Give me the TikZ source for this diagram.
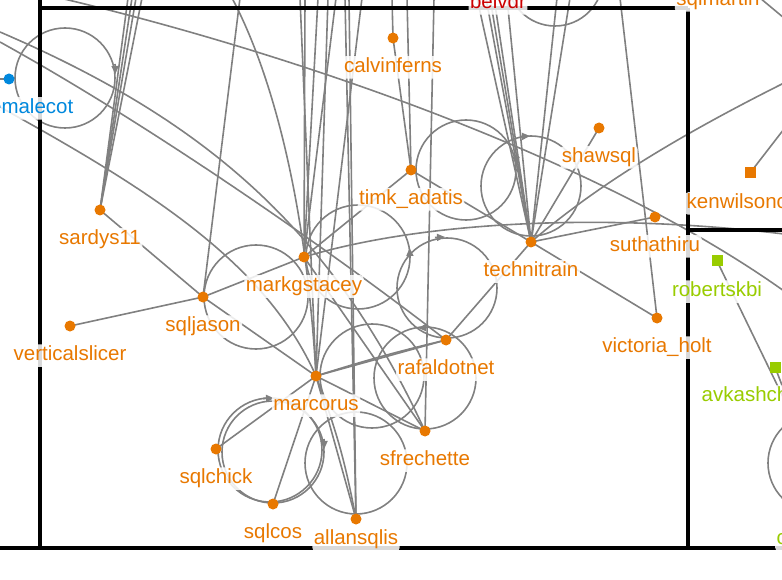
\documentclass[tikz,border=0pt]{standalone}
\usepackage{fontspec}
\setmainfont{Liberation Sans}
\usetikzlibrary{arrows.meta}
\definecolor{org}{RGB}{232,120,0}
\definecolor{grn}{RGB}{153,204,0}
\definecolor{blu}{RGB}{0,136,221}
\definecolor{rd}{RGB}{204,0,0}
\definecolor{edg}{RGB}{128,128,128}
\begin{document}
\begin{tikzpicture}[x=1pt,y=-1pt,
 edge/.style={draw=edg,line width=1.6pt},
 loopc/.style={draw=edg,line width=1.6pt},
 framel/.style={line width=4.8pt,black},
 dot/.style={circle,fill=#1,inner sep=0pt,minimum size=11pt},
 sqn/.style={rectangle,fill=#1,inner sep=0pt,minimum size=11pt},
 lbl/.style={font=\fontsize{20.5}{22}\selectfont,text=org,fill=white,fill opacity=0.85,text opacity=1,inner sep=1.5pt,rounded corners=3pt,text height=15pt,text depth=4.5pt,yshift=-1.5pt},
 tipst/.style={draw=edg,line width=1.6pt,-{Triangle[length=8pt,width=7pt]}},
]
\useasboundingbox (0,0) rectangle (782,580);
\clip (0,0) rectangle (782,580);
% node positions
\coordinate (calvinferns) at (393,38);
\coordinate (timk) at (411,170);
\coordinate (shawsql) at (599,128);
\coordinate (sardys11) at (100,210);
\coordinate (suthathiru) at (655,217);
\coordinate (technitrain) at (531,242);
\coordinate (markgstacey) at (304,257);
\coordinate (sqljason) at (203,297);
\coordinate (verticalslicer) at (70,326);
\coordinate (victoria) at (657,318);
\coordinate (rafaldotnet) at (446,340);
\coordinate (marcorus) at (316,376);
\coordinate (sfrechette) at (425,431);
\coordinate (sqlchick) at (216,449);
\coordinate (sqlcos) at (273,504);
\coordinate (allansqlis) at (356,519);
\coordinate (emalecot) at (9,79);
\coordinate (kenwilsonc) at (750,173);
\coordinate (robertskbi) at (717,261);
\coordinate (avkashch) at (775,367);
% off-picture ends
\coordinate (tA) at (0,32);
\coordinate (tB) at (0,42);
\coordinate (tC) at (0,107);
\coordinate (tD) at (60,-2);
\coordinate (rA) at (784,291);
\coordinate (el) at (-4,79);
\coordinate (s1) at (128,-2);
\coordinate (s2) at (132,-2);
\coordinate (s3) at (136,-2);
\coordinate (s4) at (142,-2);
\coordinate (q1) at (240,-2);
\coordinate (tm) at (232,-2);
\coordinate (m1) at (305,-2);
\coordinate (m2) at (318,-2);
\coordinate (m3) at (336,-2);
\coordinate (u1) at (300,-2);
\coordinate (u2) at (328,-2);
\coordinate (u3) at (362,-2);
\coordinate (a1) at (345,-2);
\coordinate (a2) at (349,-2);
\coordinate (cf) at (392,-2);
\coordinate (tk) at (407,-2);
\coordinate (sf) at (434,-2);
\coordinate (b1) at (477,-2);
\coordinate (b2) at (486,-2);
\coordinate (b3) at (490,-2);
\coordinate (b4) at (494,-2);
\coordinate (b5) at (507,-2);
\coordinate (b6) at (557,-2);
\coordinate (b7) at (570,-2);
\coordinate (rB) at (784,83);
\coordinate (rC) at (784,234);
\coordinate (vt) at (620,-2);
\coordinate (kr) at (784,129);
\coordinate (x1) at (760,-2);
\coordinate (x2) at (784,18);
\coordinate (rn) at (800,432);
% edges
\draw[edge] (tA) .. controls (200,118) and (330,225) .. (sfrechette);
\draw[edge] (tB) .. controls (150,125) and (330,250) .. (rafaldotnet);
\draw[edge] (tC) .. controls (150,190) and (265,262) .. (marcorus);
\draw[edge] (tD) .. controls (300,55) and (600,160) .. (rA);
\draw[edge] (emalecot) -- (el);
\foreach \t in {s1,s2,s3,s4} \draw[edge] (sardys11) -- (\t);
\draw[edge] (sardys11) -- (sqljason);
\draw[edge] (verticalslicer) -- (sqljason);
\draw[edge] (sqljason) -- (q1);
\draw[edge] (sqljason) -- (markgstacey);
\draw[edge] (sqljason) -- (marcorus);
\draw[edge] (tm) .. controls (265,60) and (305,180) .. (marcorus);
\foreach \t in {m1,m2,m3} \draw[edge] (markgstacey) -- (\t);
\foreach \t in {u1,u2,u3} \draw[edge] (marcorus) -- (\t);
\foreach \t in {a1,a2} \draw[edge] (allansqlis) -- (\t);
\draw[edge] (markgstacey) -- (timk);
\draw[edge] (markgstacey) .. controls (420,222) and (600,212) .. (rC);
\draw[edge] (markgstacey) -- (sfrechette);
\draw[edge] (calvinferns) -- (cf);
\draw[edge] (calvinferns) -- (timk);
\draw[edge] (timk) -- (tk);
\draw[edge] (sfrechette) -- (sf);
\draw[edge] (timk) -- (technitrain);
\foreach \t in {b1,b2,b3,b4,b5,b6,b7} \draw[edge] (technitrain) -- (\t);
\draw[edge] (technitrain) -- (shawsql);
\draw[edge] (technitrain) -- (suthathiru);
\draw[edge] (technitrain) -- (victoria);
\draw[edge] (technitrain) -- (rafaldotnet);
\draw[edge] (technitrain) .. controls (580,200) and (650,150) .. (rB);
\draw[edge] (victoria) -- (vt);
\draw[edge] (kenwilsonc) -- (kr);
\draw[edge] (x1) -- (x2);
\draw[edge] (robertskbi) -- (rn);
\draw[edge] (avkashch) -- (rn);
\draw[edge] (marcorus) -- (rafaldotnet);
\draw[edge] (marcorus) to[bend left=2] (rafaldotnet);
\draw[edge] (marcorus) -- (sfrechette);
\draw[edge] (marcorus) -- (sqlchick);
\draw[edge] (marcorus) -- (sqlcos);
\draw[edge] (marcorus) -- (allansqlis);
\draw[edge] (marcorus) to[bend left=5] (allansqlis);
% self loops
\draw[loopc] (65,78) circle (50);
\draw[loopc] (256,297) circle (52);
\draw[loopc] (358,257) circle (52);
\draw[loopc] (447,288) circle (50);
\draw[loopc] (466,170) circle (50);
\draw[loopc] (531,186) circle (50);
\draw[loopc] (555,-22) circle (48);
\draw[loopc] (372,376) circle (52);
\draw[loopc] (425,378) circle (51);
\draw[loopc] (356,463) circle (51);
\draw[loopc] (270,450) circle (52);
\draw[loopc] (273,452) circle (51);
\draw[loopc] (818,463) circle (50);
% loop arrow tips
\draw[tipst] (115,64) -- (115.4,74);
\draw[tipst] (410,258) -- (409.6,248);
\draw[tipst] (435,237.5) -- (445,237);
\draw[tipst] (516,155) -- (516.4,165);
\draw[tipst] (520,136.5) -- (530,136);
\draw[tipst] (428,327.5) -- (418,328);
\draw[tipst] (263,398.5) -- (274,398.2);
\draw[tipst] (324,439) -- (324.2,449);
% frame
\draw[framel] (40,-3) -- (40,548);
\draw[framel] (38,8) -- (688,8);
\draw[framel] (688,8) -- (688,548);
\draw[framel] (-3,548) -- (785,548);
\draw[framel] (688,230) -- (785,230);
% labels
\node[lbl] (calvinferns-t) at (393,66) {calvinferns};
\node[lbl] (timk-t) at (411,198) {timk\_adatis};
\node[lbl] (shawsql-t) at (599,156) {shawsql};
\node[lbl] (sardys11-t) at (100,238) {sardys11};
\node[lbl] (suthathiru-t) at (655,245) {suthathiru};
\node[lbl] (technitrain-t) at (531,270) {technitrain};
\node[lbl] (markgstacey-t) at (304,285) {markgstacey};
\node[lbl] (sqljason-t) at (203,325) {sqljason};
\node[lbl] (verticalslicer-t) at (70,354) {verticalslicer};
\node[lbl] (victoria-t) at (657,346) {victoria\_holt};
\node[lbl] (rafaldotnet-t) at (446,368) {rafaldotnet};
\node[lbl] (marcorus-t) at (316,404) {marcorus};
\node[lbl] (sfrechette-t) at (425,459) {sfrechette};
\node[lbl] (sqlchick-t) at (216,477) {sqlchick};
\node[lbl] (sqlcos-t) at (273,532) {sqlcos};
\node[lbl] (allansqlis-t) at (356,538) {allansqlis};
\node[lbl,text=blu,anchor=east] (emalecot-t) at (75,107) {emalecot};
\node[lbl,anchor=west] (kenwilsonc-t) at (685,202) {kenwilsonc};
\node[lbl,text=grn] (robertskbi-t) at (717,290) {robertskbi};
\node[lbl,text=grn,anchor=west] (avkashch-t) at (700,395) {avkashch};
\node[lbl,text=grn,anchor=west] (c-t) at (775,538) {c};
\node[lbl,text=rd] (belvdr-t) at (498,2) {belvdr};
\node[lbl] (sqlmartin-t) at (718,-1) {sqlmartin};
% dots
\foreach \n in {calvinferns,timk,shawsql,sardys11,suthathiru,technitrain,markgstacey,sqljason,verticalslicer,victoria,rafaldotnet,marcorus,sfrechette,sqlchick,sqlcos,allansqlis}
  \node[dot=org] (\n-d) at (\n) {};
\node[dot=blu] (emalecot-d) at (emalecot) {};
\node[sqn=org] (kenwilsonc-d) at (kenwilsonc) {};
\node[sqn=grn] (robertskbi-d) at (robertskbi) {};
\node[sqn=grn] (avkashch-d) at (avkashch) {};
\end{tikzpicture}
\end{document}
